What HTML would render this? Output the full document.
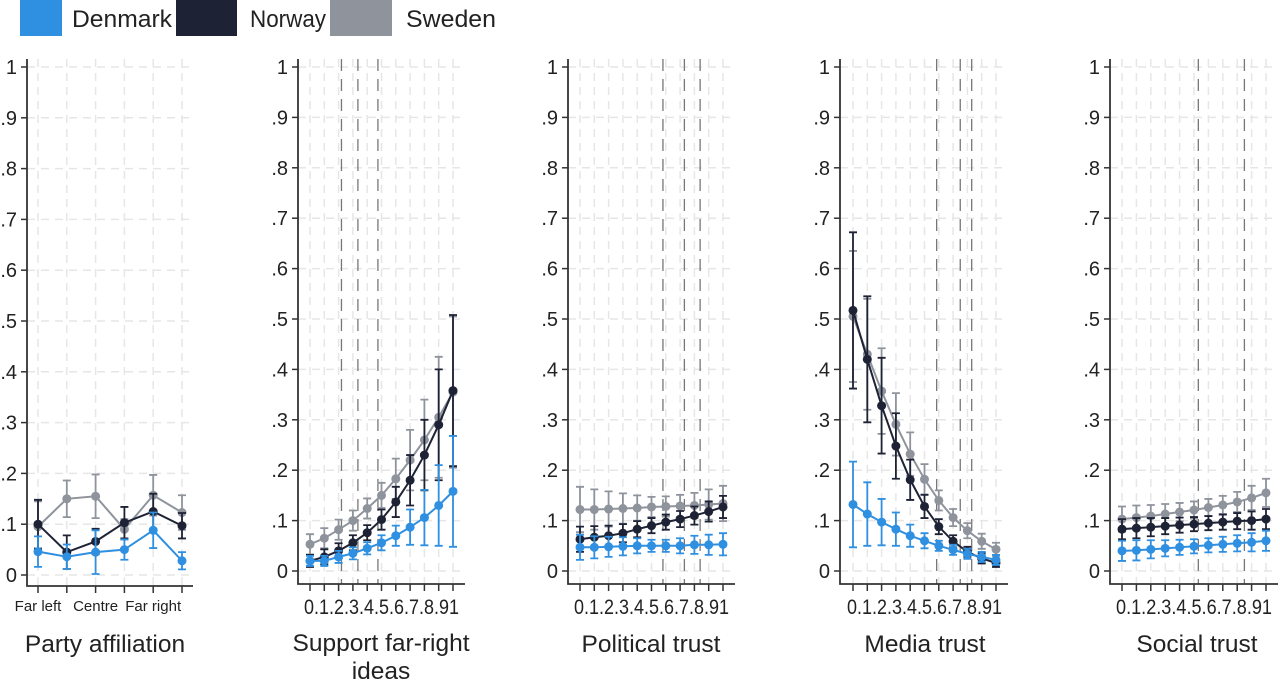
<!DOCTYPE html>
<html><head><meta charset="utf-8"><style>
html,body{margin:0;padding:0;background:#fff;}
svg{display:block;font-family:"Liberation Sans",sans-serif;}
</style></head><body>
<svg id="chart" width="1280" height="681" viewBox="0 0 1280 681" xmlns="http://www.w3.org/2000/svg">
<g>
<rect x="20" y="0" width="42" height="36" fill="#2f8fe0"/>
<text x="72" y="27" font-size="24" textLength="100" lengthAdjust="spacingAndGlyphs" fill="#222">Denmark</text>
<rect x="176" y="0" width="61" height="36" fill="#1e2235"/>
<text x="250" y="27" font-size="24" textLength="76" lengthAdjust="spacingAndGlyphs" fill="#222">Norway</text>
<rect x="330" y="0" width="62" height="36" fill="#8e939c"/>
<text x="406" y="27" font-size="24" textLength="90" lengthAdjust="spacingAndGlyphs" fill="#222">Sweden</text>
</g>
</svg>
<script>
const countries=["Denmark","Norway","Sweden"];
const colors={Denmark:"#2f8fe0",Norway:"#1e2235",Sweden:"#8e939c"};
const yTicks=["0",".1",".2",".3",".4",".5",".6",".7",".8",".9","1"];
const panelTitles=[["Party affiliation"],["Support far-right ideas"],["Political trust"],["Media trust"],["Social trust"]];
const p1Cats=["Far left","","Centre","","Far right",""];
const pCats=["0",".1",".2",".3",".4",".5",".6",".7",".8",".9","1"];
// panel 1
const p1Den=[.046,.036,.045,.05,.088,.028];
const p1DenErr=[.03,.024,.043,.02,.035,.017];
const p1Nor=[.1,.045,.066,.103,.125,.097];
const p1NorErr=[.048,.033,.025,.031,.035,.025];
const p1Swe=[.095,.15,.155,.09,.157,.123];
const p1SweErr=[.05,.036,.043,.02,.04,.034];
// panel 2
const p2Den=[.02,.02,.028,.035,.045,.056,.07,.087,.106,.13,.158];
const p2DenErr=[.01,.01,.012,.012,.012,.015,.02,.035,.055,.08,.11];
const p2Nor=[.02,.028,.04,.056,.076,.102,.137,.18,.23,.29,.358];
const p2NorErr=[.012,.015,.015,.015,.015,.02,.03,.05,.07,.11,.15];
const p2Swe=[.053,.065,.082,.1,.124,.15,.183,.22,.26,.305,.355];
const p2SweErr=[.02,.02,.02,.02,.02,.025,.04,.06,.08,.12,.15];
// panel 3
const p3Den=[.047,.047,.048,.049,.05,.05,.05,.05,.052,.052,.053];
const p3DenErr=[.025,.022,.02,.018,.015,.012,.012,.015,.018,.02,.022];
const p3Nor=[.063,.067,.07,.075,.083,.09,.097,.103,.11,.118,.127];
const p3NorErr=[.025,.022,.02,.018,.016,.015,.015,.016,.018,.02,.022];
const p3Swe=[.122,.122,.123,.124,.125,.127,.128,.129,.13,.132,.134];
const p3SweErr=[.045,.04,.035,.03,.025,.02,.02,.022,.025,.03,.035];
// panel 4
const p4Den=[.132,.113,.097,.083,.07,.06,.05,.042,.034,.028,.022];
const p4DenErr=[.085,.063,.046,.033,.022,.015,.01,.01,.01,.01,.01];
const p4Nor=[.517,.42,.328,.248,.181,.128,.088,.059,.038,.025,.016];
const p4NorErr=[.155,.125,.095,.065,.04,.023,.015,.012,.01,.01,.008];
const p4Swe=[.505,.43,.357,.291,.232,.182,.14,.106,.08,.059,.043];
const p4SweErr=[.13,.11,.085,.062,.043,.03,.02,.017,.015,.015,.013];
// panel 5
const p5Den=[.04,.041,.043,.045,.047,.049,.051,.053,.055,.057,.06];
const p5DenErr=[.02,.02,.018,.016,.015,.014,.014,.015,.016,.018,.02];
const p5Nor=[.083,.085,.087,.089,.091,.093,.095,.097,.099,.1,.103];
const p5NorErr=[.02,.02,.018,.016,.015,.014,.014,.015,.016,.018,.02];
const p5Swe=[.103,.106,.109,.113,.117,.121,.126,.131,.137,.145,.155];
const p5SweErr=[.025,.024,.022,.02,.018,.017,.017,.018,.02,.024,.028];
const dashIdx=[[],[2.2,3.35,4.75],[5.8,7.3,8.4],[5.85,7.5,8.3],[5.3,8.5]];

const panels=[
 {ax:27,x0:38,x1:182,y0:575,y1:67,xb:586,xr:193,cats:p1Cats,data:{Denmark:[p1Den,p1DenErr],Norway:[p1Nor,p1NorErr],Sweden:[p1Swe,p1SweErr]},tc:105},
 {ax:298,x0:310,x1:453,y0:571,y1:67,xb:584,xr:465,cats:pCats,data:{Denmark:[p2Den,p2DenErr],Norway:[p2Nor,p2NorErr],Sweden:[p2Swe,p2SweErr]},tc:381},
 {ax:568,x0:580,x1:723,y0:571,y1:67,xb:584,xr:735,cats:pCats,data:{Denmark:[p3Den,p3DenErr],Norway:[p3Nor,p3NorErr],Sweden:[p3Swe,p3SweErr]},tc:651},
 {ax:840,x0:853,x1:996,y0:571,y1:67,xb:584,xr:1008,cats:pCats,data:{Denmark:[p4Den,p4DenErr],Norway:[p4Nor,p4NorErr],Sweden:[p4Swe,p4SweErr]},tc:925},
 {ax:1110,x0:1122,x1:1266,y0:571,y1:67,xb:584,xr:1278,cats:pCats,data:{Denmark:[p5Den,p5DenErr],Norway:[p5Nor,p5NorErr],Sweden:[p5Swe,p5SweErr]},tc:1197}
];
const svg=document.getElementById('chart');
const NS="http://www.w3.org/2000/svg";
function mk(tag,attrs,parent){const e=document.createElementNS(NS,tag);for(const k in attrs)e.setAttribute(k,attrs[k]);(parent||svg).appendChild(e);return e;}
panels.forEach((p,pi)=>{
 const g=mk('g',{});
 
 
 const n=p.cats.length;
 const xs=i=>p.x0+(p.x1-p.x0)*i/(n-1);
 const ys=v=>p.y0-(p.y0-p.y1)*v;
 yTicks.forEach((t,i)=>{const y=ys(i/10);
  const gl=mk('line',{x1:p.ax,x2:p.xr,y1:y,y2:y,stroke:'#e6e6e6','stroke-width':1.5,'stroke-dasharray':'8,6'},g);
  
  
  const tk=mk('line',{x1:p.ax-6,x2:p.ax,y1:y,y2:y,stroke:'#333','stroke-width':1.5},g);
  
  
  const tl=mk('text',{x:p.ax-10,y:y+7,'font-size':20,'text-anchor':'end',fill:'#222'},g);tl.textContent=t;
  
  
 });
 for(let i=0;i<n;i++){const x=xs(i);
  const gl=mk('line',{x1:x,x2:x,y1:p.y1-8,y2:p.xb,stroke:'#e6e6e6','stroke-width':1.5,'stroke-dasharray':'8,6'},g);
  
  
  const tk=mk('line',{x1:x,x2:x,y1:p.xb,y2:p.xb+7,stroke:'#333','stroke-width':1.5},g);
  
  
 }
 dashIdx[pi].forEach(d=>{const x=xs(d);
  const dl=mk('line',{x1:x,x2:x,y1:p.y1-8,y2:p.xb,stroke:'#777','stroke-width':1.3,'stroke-dasharray':'12,8'},g);
  
  
 });
 if(pi===0){
  [[0,"Far left"],[2,"Centre"],[4,"Far right"]].forEach(([i,t])=>{const tl=mk('text',{x:xs(i),y:611,'font-size':15,'text-anchor':'middle',fill:'#222'},g);tl.textContent=t;
   
   });
 } else {
  const tl=mk('text',{x:(p.x0+p.x1)/2,y:614,'font-size':21,'text-anchor':'middle',fill:'#222',textLength:(p.x1-p.x0)+12,lengthAdjust:'spacingAndGlyphs'},g);
  tl.textContent=p.cats.join('');
  
  
 }
 const axl=mk('path',{d:`M${p.ax},${p.y1-8}V${p.xb}H${p.xr}`,fill:'none',stroke:'#333','stroke-width':1.8},g);
 
 
 ["Sweden","Norway","Denmark"].forEach(c=>{
  const [vals,errs]=p.data[c];const col=colors[c];
  const sg=mk('g',{},g);
  
  
  vals.forEach((v,i)=>{const x=xs(i);
   const e=mk('path',{d:`M${x},${ys(v-errs[i])}V${ys(v+errs[i])}M${x-4},${ys(v-errs[i])}h8M${x-4},${ys(v+errs[i])}h8`,stroke:col,'stroke-width':1.8,fill:'none'},sg);
   
   
  });
  const ln=mk('polyline',{points:vals.map((v,i)=>xs(i)+','+ys(v)).join(' '),fill:'none',stroke:col,'stroke-width':2},sg);
  
  
  vals.forEach((v,i)=>{const pt=mk('circle',{cx:xs(i),cy:ys(v),r:4.5,fill:col},sg);
   
   });
 });
 if(pi===1){
  [["Support far-right",651],["ideas",679]].forEach(([t,y])=>{const tt=mk('text',{x:p.tc,y:y,'font-size':24.5,'text-anchor':'middle',fill:'#222'},g);tt.textContent=t;
   
   });
 } else {
  const tt=mk('text',{x:p.tc,y:652,'font-size':24.5,'text-anchor':'middle',fill:'#222'},g);tt.textContent=panelTitles[pi][0];
  
  
 }
});
</script>
</body></html>
